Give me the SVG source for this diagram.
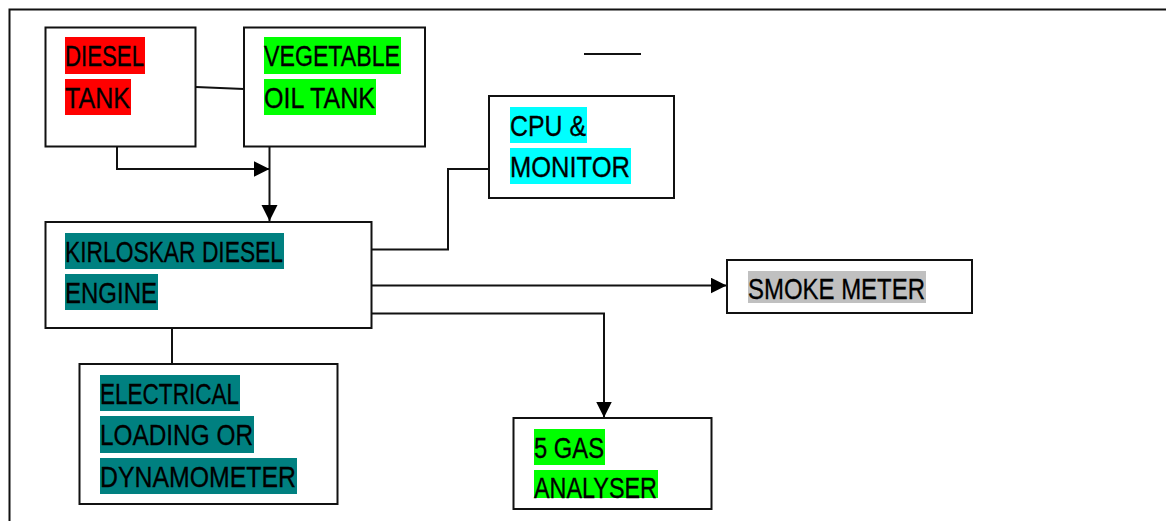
<svg xmlns="http://www.w3.org/2000/svg" width="1166" height="521" viewBox="0 0 1166 521">
<style>
.box{fill:#fff;stroke:#111;stroke-width:2}
.ln{fill:none;stroke:#111;stroke-width:2}
.t{font-family:"Liberation Sans Narrow","Arial Narrow","Liberation Sans",Arial,sans-serif;font-size:29px;fill:#000;stroke:#000;stroke-width:0.3}
.red{fill:#ff0000}.grn{fill:#00ff00}.cyn{fill:#00ffff}.teal{fill:#008080}.gry{fill:#c0c0c0}
</style>
<defs>
<marker id="ah" markerUnits="userSpaceOnUse" markerWidth="17" markerHeight="17" refX="16" refY="8" orient="auto">
<path d="M0,0 L16,8 L0,16 Z" fill="#000"/>
</marker>
</defs>
<rect width="1166" height="521" fill="#fff"/>
<g id="frame">
<path class="ln" d="M9.5,521 V9.5 H1166" stroke="#222"/>
<path class="ln" d="M584,54 H641"/>
</g>
<g id="connectors">
<path class="ln" d="M196,87 L244,89"/>
<path class="ln" d="M117,147 V169 H269.5" marker-end="url(#ah)"/>
<path class="ln" d="M269.5,147 V221" marker-end="url(#ah)"/>
<path class="ln" d="M372,249.5 H448 V169 H489"/>
<path class="ln" d="M372,285.5 H726.5" marker-end="url(#ah)"/>
<path class="ln" d="M372,313.5 H604 V417.5" marker-end="url(#ah)"/>
<path class="ln" d="M172,328 V364"/>
</g>
<g id="diesel-tank">
<rect class="box" x="45.5" y="27.5" width="150" height="119"/>
<rect class="red" x="65" y="37" width="80" height="37"/>
<rect class="red" x="65" y="79" width="66" height="36"/>
<text class="t" x="65" y="66" textLength="79" lengthAdjust="spacingAndGlyphs">DIESEL</text>
<text class="t" x="65" y="108" textLength="65" lengthAdjust="spacingAndGlyphs">TANK</text>
</g>
<g id="veg-oil-tank">
<rect class="box" x="244" y="27.5" width="181" height="119"/>
<rect class="grn" x="264" y="37" width="137" height="37"/>
<rect class="grn" x="264" y="79" width="112" height="36"/>
<text class="t" x="264" y="66" textLength="136" lengthAdjust="spacingAndGlyphs">VEGETABLE</text>
<text class="t" x="264" y="108" textLength="111" lengthAdjust="spacingAndGlyphs">OIL TANK</text>
</g>
<g id="cpu-monitor">
<rect class="box" x="489" y="96" width="185" height="102"/>
<rect class="cyn" x="510" y="107" width="77" height="36"/>
<rect class="cyn" x="510" y="148" width="121" height="36"/>
<text class="t" x="510" y="136" textLength="76" lengthAdjust="spacingAndGlyphs">CPU &amp;</text>
<text class="t" x="510" y="177" textLength="120" lengthAdjust="spacingAndGlyphs">MONITOR</text>
</g>
<g id="engine">
<rect class="box" x="45.5" y="222" width="326" height="106"/>
<rect class="teal" x="65" y="233" width="219" height="36"/>
<rect class="teal" x="65" y="274" width="93" height="36"/>
<text class="t" x="65" y="262" textLength="218" lengthAdjust="spacingAndGlyphs">KIRLOSKAR DIESEL</text>
<text class="t" x="65" y="303" textLength="92" lengthAdjust="spacingAndGlyphs">ENGINE</text>
</g>
<g id="smoke-meter">
<rect class="box" x="727" y="260" width="245" height="53"/>
<rect class="gry" x="748" y="271" width="178" height="32"/>
<text class="t" x="748" y="299" textLength="177" lengthAdjust="spacingAndGlyphs">SMOKE METER</text>
</g>
<g id="gas-analyser">
<rect class="box" x="513.5" y="418" width="198" height="91"/>
<rect class="grn" x="534" y="429" width="71" height="36"/>
<rect class="grn" x="534" y="470" width="124" height="28"/>
<text class="t" x="534" y="458" textLength="70" lengthAdjust="spacingAndGlyphs">5 GAS</text>
<text class="t" x="534" y="498" textLength="123" lengthAdjust="spacingAndGlyphs">ANALYSER</text>
</g>
<g id="electrical-loading">
<rect class="box" x="79.5" y="364" width="258" height="140"/>
<rect class="teal" x="100" y="375" width="140" height="36"/>
<rect class="teal" x="100" y="416" width="154" height="37"/>
<rect class="teal" x="100" y="458" width="197" height="36"/>
<text class="t" x="100" y="404" textLength="139" lengthAdjust="spacingAndGlyphs">ELECTRICAL</text>
<text class="t" x="100" y="445" textLength="153" lengthAdjust="spacingAndGlyphs">LOADING OR</text>
<text class="t" x="100" y="487" textLength="196" lengthAdjust="spacingAndGlyphs">DYNAMOMETER</text>
</g>
</svg>
